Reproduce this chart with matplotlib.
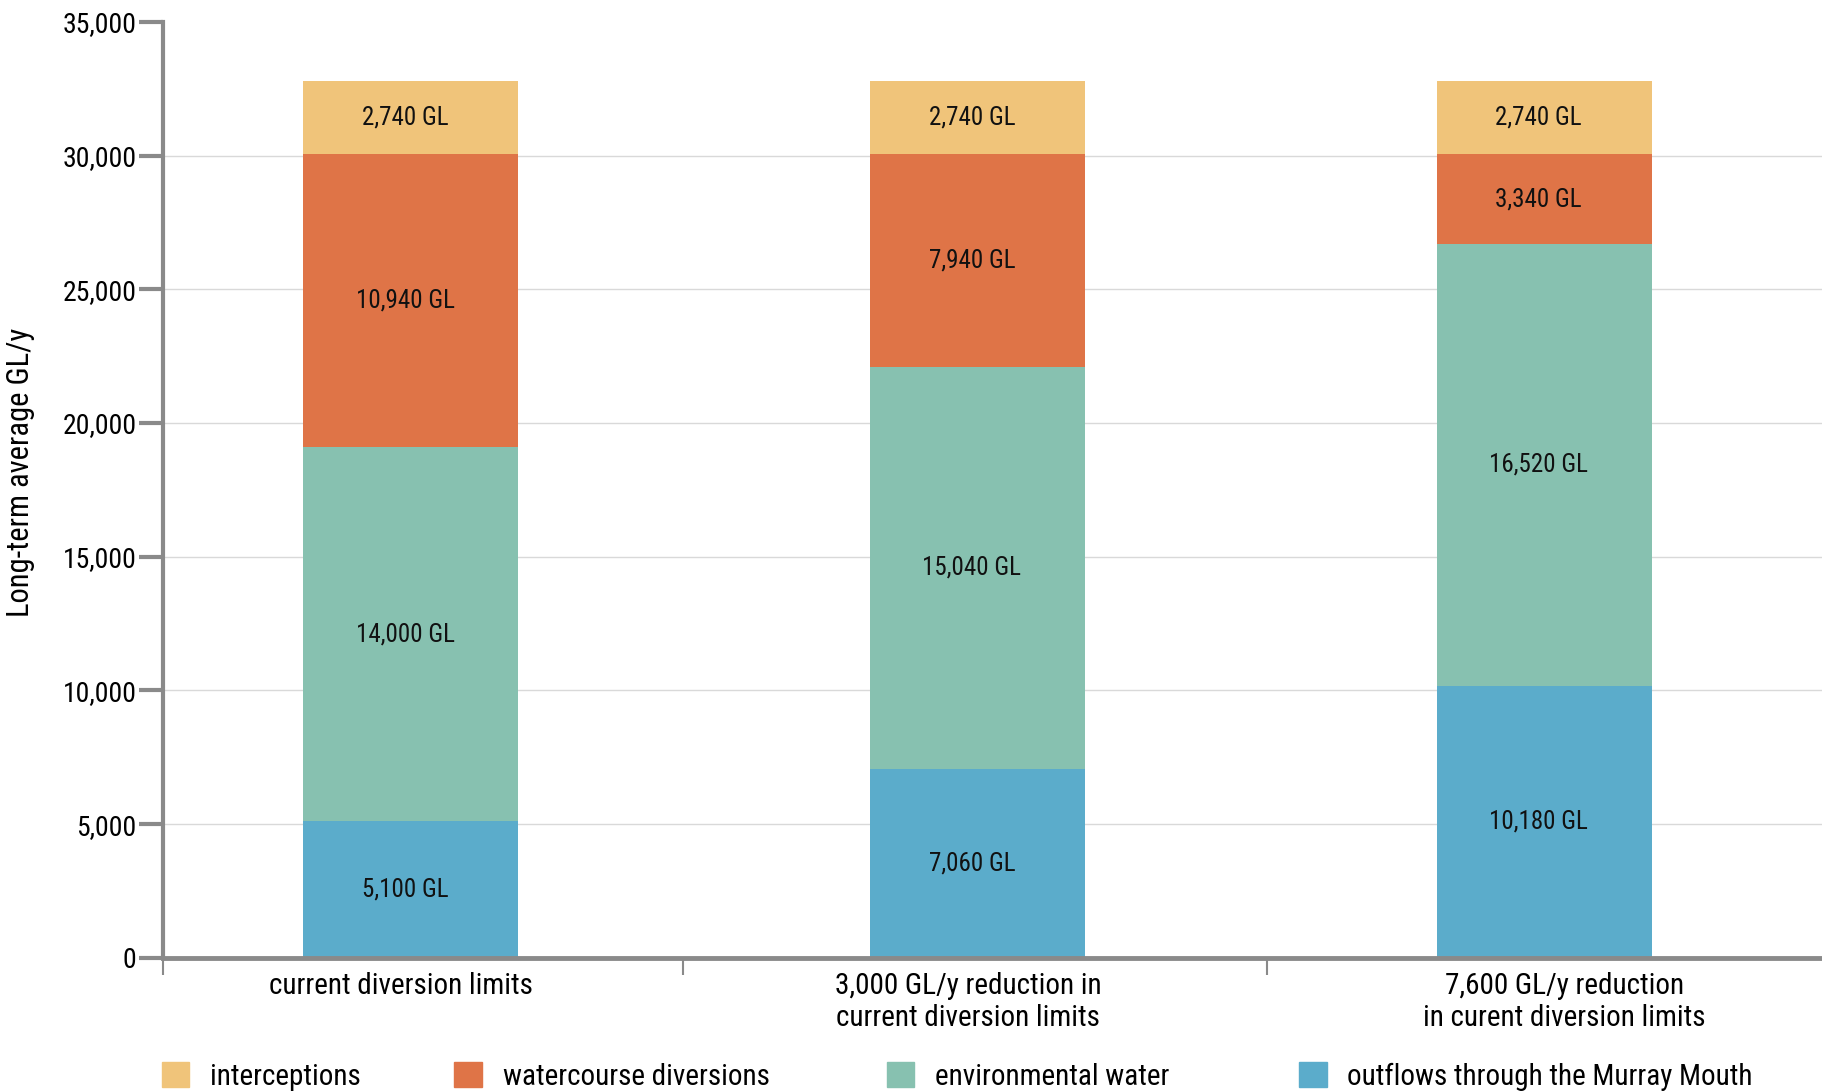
import numpy as np
import matplotlib
matplotlib.use('Agg')
import matplotlib.pyplot as plt
from matplotlib.patches import Patch

plt.rcParams['font.family'] = ['Roboto Condensed', 'Archivo Narrow', 'DejaVu Sans']

categories = ['current diversion limits',
              '3,000 GL/y reduction in\ncurrent diversion limits',
              '7,600 GL/y reduction\nin curent diversion limits']
series_names = ['outflows through the Murray Mouth', 'environmental water',
                'watercourse diversions', 'interceptions']
outflows = [5100, 7060, 10180]
environmental = [14000, 15040, 16520]
diversions = [10940, 7940, 3340]
interceptions = [2740, 2740, 2740]
yticks = [0, 5000, 10000, 15000, 20000, 25000, 30000, 35000]

colors = ['#5BACCB', '#87C1B0', '#DF7447', '#F0C47A']
grey = '#8a8a8a'

fig = plt.figure(figsize=(18.22, 10.91), dpi=100)
ax = fig.add_axes([0.0895, 0.122, 0.9105, 0.858])

x = np.arange(len(categories))
width = 0.38
bottom = np.zeros(len(categories))
for vals, col in zip([outflows, environmental, diversions, interceptions], colors):
    vals = np.array(vals, dtype=float)
    ax.bar(x, vals, width, bottom=bottom, color=col, zorder=2)
    for xi, b, v in zip(x, bottom, vals):
        ax.text(xi - 0.01, b + v / 2, f'{int(v):,} GL', ha='center', va='center',
                fontsize=18, color='#111111', zorder=3)
    bottom += vals

ax.set_xlim(-0.437, 2.49)
ax.set_ylim(0, 35000)

ax.set_yticks(yticks)
ax.set_yticklabels([f'{t:,}' for t in yticks], fontsize=20)
ax.tick_params(axis='y', length=17, width=3, color=grey, pad=2)
for t in yticks[1:-1]:
    ax.axhline(t, color='#d9d9d9', lw=1, zorder=1)

ax.set_xticks([-0.437, 0.48, 1.51])
ax.set_xticklabels([])
ax.tick_params(axis='x', length=12, width=1.5, color=grey)
for xi, dx, lab in zip(x, [-0.017, -0.017, 0.035], categories):
    ax.text(xi + dx, -520, lab, ha='center', va='top', fontsize=21,
            linespacing=1.2)

for s in ['top', 'right']:
    ax.spines[s].set_visible(False)
ax.spines['left'].set_color(grey)
ax.spines['left'].set_linewidth(3)
ax.spines['bottom'].set_color(grey)
ax.spines['bottom'].set_linewidth(3.5)

ax.set_ylabel('Long-term average GL/y', fontsize=22)
ax.yaxis.set_label_coords(-0.077, 0.519)

# legend entries placed one by one
for name, col, lx in zip(series_names[::-1], colors[::-1],
                         [0.0887, 0.2494, 0.4866, 0.7130]):
    leg = fig.legend([Patch(color=col)], [name], loc='center left',
                     bbox_to_anchor=(lx, 0.0135), frameon=False, fontsize=21,
                     handlelength=0.95, handleheight=0.95, handletextpad=0.7,
                     borderpad=0, borderaxespad=0)

fig.savefig('out.png', dpi=100)
